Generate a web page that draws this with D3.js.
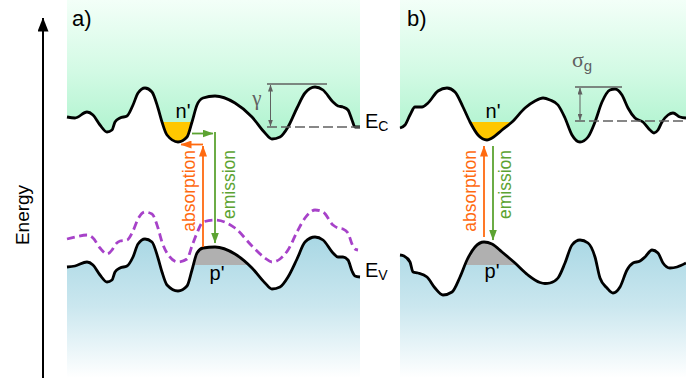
<!DOCTYPE html>
<html>
<head>
<meta charset="utf-8">
<script src="https://cdn.jsdelivr.net/npm/d3@7"></script>
<style>
  body { margin: 0; background: #fff; }
  svg { display: block; font-family: "Liberation Sans", Arial, sans-serif; }
</style>
</head>
<body>
<svg id="chart" width="686" height="378"></svg>
<script>
// ---- band-edge profiles (position along sample, energy in eV) ----
// a) fluctuating band edges with a constant gap
const posA   = [0, 8, 20, 26, 33, 40, 45, 48, 53, 60, 66, 71, 78, 85, 91, 95, 100, 111, 120, 125, 130, 136, 148, 168, 185, 198, 205, 213, 221, 230, 238, 248, 256, 266, 271, 276, 281, 285, 288, 293];
const ecA    = [2.61, 2.60, 2.66, 2.63, 2.53, 2.46, 2.48, 2.56, 2.60, 2.62, 2.73, 2.85, 2.90, 2.86, 2.70, 2.56, 2.43, 2.36, 2.41, 2.56, 2.73, 2.80, 2.82, 2.75, 2.61, 2.45, 2.39, 2.41, 2.51, 2.70, 2.85, 2.91, 2.88, 2.76, 2.72, 2.71, 2.68, 2.58, 2.51, 2.51];
const evA    = [1.11, 1.12, 1.16, 1.13, 1.03, 0.96, 0.98, 1.06, 1.10, 1.12, 1.21, 1.34, 1.39, 1.36, 1.20, 1.06, 0.93, 0.87, 0.92, 1.08, 1.25, 1.30, 1.31, 1.24, 1.10, 0.95, 0.89, 0.91, 1.01, 1.19, 1.36, 1.41, 1.38, 1.25, 1.21, 1.21, 1.18, 1.07, 1.02, 1.01];
// shifted valence edge (dashed), ends slightly before the panel edge
const posS   = [0, 8, 20, 26, 33, 40, 45, 48, 53, 60, 66, 71, 78, 85, 91, 95, 100, 111, 120, 125, 130, 136, 148, 168, 185, 198, 205, 213, 221, 230, 238, 248, 256, 266, 271, 276, 281, 285, 288, 291];
const shiftA = [1.39, 1.41, 1.43, 1.40, 1.30, 1.24, 1.28, 1.33, 1.37, 1.38, 1.47, 1.59, 1.66, 1.64, 1.50, 1.36, 1.25, 1.16, 1.19, 1.32, 1.45, 1.56, 1.58, 1.50, 1.32, 1.20, 1.16, 1.19, 1.28, 1.46, 1.60, 1.68, 1.66, 1.53, 1.50, 1.49, 1.45, 1.34, 1.29, 1.28];

// b) independently fluctuating band edges
const posB = [0, 5, 10, 15, 22, 28, 38, 47, 55, 63, 70, 78, 87, 92, 102, 112, 125, 135, 143, 150, 158, 165, 172, 180, 188, 195, 202, 210, 215, 222, 228, 235, 243, 250, 254, 258, 262, 268, 273, 280, 286];
const ecB  = [2.50, 2.53, 2.63, 2.71, 2.71, 2.75, 2.87, 2.90, 2.86, 2.71, 2.56, 2.43, 2.38, 2.40, 2.48, 2.56, 2.70, 2.77, 2.80, 2.78, 2.73, 2.60, 2.43, 2.36, 2.41, 2.56, 2.76, 2.88, 2.89, 2.83, 2.70, 2.60, 2.56, 2.48, 2.45, 2.48, 2.56, 2.63, 2.65, 2.61, 2.60];
const posBv = [0, 4, 10, 13, 18, 27, 35, 43, 52, 60, 67, 75, 84, 92, 102, 115, 128, 140, 145, 150, 158, 165, 172, 180, 188, 195, 200, 207, 213, 220, 227, 233, 240, 245, 252, 258, 263, 270, 277, 286];
const evB   = [1.23, 1.22, 1.16, 1.06, 1.05, 1.01, 0.90, 0.83, 0.86, 1.01, 1.18, 1.31, 1.36, 1.34, 1.26, 1.15, 1.03, 0.955, 0.945, 0.95, 1.00, 1.15, 1.33, 1.38, 1.35, 1.21, 1.00, 0.90, 0.85, 0.91, 1.08, 1.15, 1.17, 1.21, 1.28, 1.25, 1.15, 1.10, 1.11, 1.15];

// occupied states: [panel a, panel b]
const nLevel = [2.56, 2.56];
const pLevel = [1.13, 1.13];
const nWell  = [[90, 135], [60, 120]];
const pHill  = [[120, 185], [62, 118]];

// fluctuation amplitude markers: [position from, position to, arrow position, lower E, upper E]
const gammaMark = [200, 260, 203.5, 2.51, 2.94];
const sigmaMark = [175, 222, 180, 2.57, 2.91];

// optical transitions: [pos1, E1, pos2, E2]
const absorbA = [[136, 1.31, 136, 2.32], [136, 2.335, 114, 2.335]];
const emitA   = [[125, 2.445, 146, 2.445], [148, 2.46, 148, 1.35]];
const absorbB = [[84, 1.41, 84, 2.32]];
const emitB   = [[93, 2.32, 93, 1.38]];

const W = 686, H = 378;
const svg = d3.select("#chart");
const y  = d3.scaleLinear().domain([0, 3.78]).range([H, 0]);
const xA = d3.scaleLinear().domain([0, 293]).range([67, 360]);
const xB = d3.scaleLinear().domain([0, 286]).range([400, 686]);

const ORANGE = "#ff6a10", GREEN = "#5ca332", GREY = "#606060", PURPLE = "#a742c9";

const defs = svg.append("defs");
const gGreen = defs.append("linearGradient").attr("id", "cbGrad")
  .attr("gradientUnits", "userSpaceOnUse").attr("x1", 0).attr("x2", 0).attr("y1", 0).attr("y2", 145);
gGreen.append("stop").attr("offset", 0).attr("stop-color", "#f3fff8");
gGreen.append("stop").attr("offset", 0.5).attr("stop-color", "#d2fae4");
gGreen.append("stop").attr("offset", 1).attr("stop-color", "#a9f2cb");
const gBlue = defs.append("linearGradient").attr("id", "vbGrad")
  .attr("gradientUnits", "userSpaceOnUse").attr("x1", 0).attr("x2", 0).attr("y1", 236).attr("y2", 378);
gBlue.append("stop").attr("offset", 0).attr("stop-color", "#a8d7e4");
gBlue.append("stop").attr("offset", 0.5).attr("stop-color", "#cbe7ef");
gBlue.append("stop").attr("offset", 1).attr("stop-color", "#ffffff");

function marker(id, color, len, wid) {
  defs.append("marker").attr("id", id).attr("markerUnits", "userSpaceOnUse")
    .attr("viewBox", `0 0 ${len} ${wid}`).attr("refX", len - 0.5).attr("refY", wid / 2)
    .attr("markerWidth", len).attr("markerHeight", wid).attr("orient", "auto-start-reverse")
    .append("path").attr("d", `M0,0L${len},${wid / 2}L0,${wid}Z`).attr("fill", color);
}
marker("arOrange", ORANGE, 11, 8);
marker("arGreen", GREEN, 11, 8);
marker("arGrey", GREY, 7, 5);
marker("arBlack", "#000", 14, 11);

const smooth = d3.curveMonotoneX;

function drawPanel(id, x, pos, ec, posV, ev, k) {
  const g = svg.append("g");
  const lineC = d3.line().x((d, i) => x(pos[i])).y(d => y(d)).curve(smooth);
  const lineV = d3.line().x((d, i) => x(posV[i])).y(d => y(d)).curve(smooth);
  const areaC = d3.area().x((d, i) => x(pos[i])).y0(0).y1(d => y(d)).curve(smooth);
  const areaV = d3.area().x((d, i) => x(posV[i])).y0(H).y1(d => y(d)).curve(smooth);

  g.append("path").attr("d", areaC(ec)).attr("fill", "url(#cbGrad)");
  g.append("path").attr("d", areaV(ev)).attr("fill", "url(#vbGrad)");

  defs.append("clipPath").attr("id", id + "cb").append("path").attr("d", areaC(ec));
  defs.append("clipPath").attr("id", id + "vb").append("path").attr("d", areaV(ev));

  // electrons pooled in the conduction-band well
  g.append("rect").attr("clip-path", `url(#${id}cb)`)
    .attr("x", x(nWell[k][0])).attr("width", x(nWell[k][1]) - x(nWell[k][0]))
    .attr("y", y(nLevel[k])).attr("height", y(2.0) - y(nLevel[k]))
    .attr("fill", "#ffc700");
  // holes pooled on the valence-band hill
  g.append("rect").attr("clip-path", `url(#${id}vb)`)
    .attr("x", x(pHill[k][0])).attr("width", x(pHill[k][1]) - x(pHill[k][0]))
    .attr("y", y(1.7)).attr("height", y(pLevel[k]) - y(1.7))
    .attr("fill", "#b0b0b0");

  g.append("path").attr("d", lineC(ec)).attr("fill", "none").attr("stroke", "#000").attr("stroke-width", 2.8);
  g.append("path").attr("d", lineV(ev)).attr("fill", "none").attr("stroke", "#000").attr("stroke-width", 2.8);
  return g;
}

const gA = drawPanel("pa", xA, posA, ecA, posA, evA, 0);
const gB = drawPanel("pb", xB, posB, ecB, posBv, evB, 1);

// shifted valence edge in a)
gA.append("path")
  .attr("d", d3.line().x((d, i) => xA(posS[i])).y(d => y(d)).curve(smooth)(shiftA))
  .attr("fill", "none").attr("stroke", PURPLE).attr("stroke-width", 2.8).attr("stroke-dasharray", "8,4.5");

// amplitude markers
function ampMarker(g, x, m, xEnd) {
  g.append("line").attr("x1", x(m[0])).attr("x2", x(xEnd)).attr("y1", y(m[3])).attr("y2", y(m[3]))
    .attr("stroke", GREY).attr("stroke-width", 1.6).attr("stroke-dasharray", "10,4");
  g.append("line").attr("x1", x(m[0])).attr("x2", x(m[1])).attr("y1", y(m[4])).attr("y2", y(m[4]))
    .attr("stroke", GREY).attr("stroke-width", 1.6);
  g.append("line").attr("x1", x(m[2])).attr("x2", x(m[2])).attr("y1", y(m[4]) + 1).attr("y2", y(m[3]) - 1)
    .attr("stroke", GREY).attr("stroke-width", 1)
    .attr("marker-start", "url(#arGrey)").attr("marker-end", "url(#arGrey)");
}
ampMarker(gA, xA, gammaMark, 293);
ampMarker(gB, xB, sigmaMark, 286);

function arrows(g, x, segs, color, mk) {
  segs.forEach(s => {
    g.append("line").attr("x1", x(s[0])).attr("y1", y(s[1])).attr("x2", x(s[2])).attr("y2", y(s[3]))
      .attr("stroke", color).attr("stroke-width", 1.8).attr("marker-end", `url(#${mk})`);
  });
}
arrows(gA, xA, absorbA, ORANGE, "arOrange");
arrows(gA, xA, emitA, GREEN, "arGreen");
arrows(gB, xB, absorbB, ORANGE, "arOrange");
arrows(gB, xB, emitB, GREEN, "arGreen");

// rotated transition labels
function vText(cx, top, txt, color) {
  svg.append("text").attr("transform", `translate(${cx},${top}) rotate(-90)`)
    .attr("text-anchor", "end").attr("dy", "0.35em")
    .attr("font-size", 17.5).attr("fill", color).text(txt);
}
vText(189, 150, "absorption", ORANGE);
vText(229, 150, "emission", GREEN);
vText(470, 150, "absorption", ORANGE);
vText(505, 150, "emission", GREEN);

// text labels
function label(x0, y0, txt, size, color, anchor) {
  return svg.append("text").attr("x", x0).attr("y", y0).attr("font-size", size)
    .attr("fill", color || "#000").attr("text-anchor", anchor || "start").text(txt);
}
label(72, 26, "a)", 22);
label(407, 26, "b)", 22);
label(183, 118, "n'", 20, "#000", "middle");
label(493, 118, "n'", 20, "#000", "middle");
label(217, 280, "p'", 20, "#000", "middle");
label(492, 278, "p'", 20, "#000", "middle");
label(257, 105, "γ", 21, GREY, "middle").attr("font-family", "'Liberation Serif', serif");

const ecLab = label(365, 128, "E", 20);
ecLab.append("tspan").attr("font-size", 14).attr("dy", 3).text("C");
const evLab = label(365, 277, "E", 20);
evLab.append("tspan").attr("font-size", 14).attr("dy", 3).text("V");
const sgLab = label(572, 67, "σ", 22, GREY).attr("font-family", "'Liberation Serif', serif");
sgLab.append("tspan").attr("font-family", "'Liberation Sans', Arial, sans-serif")
  .attr("font-size", 15).attr("dy", 4).text("g");

// energy axis
svg.append("line").attr("x1", 43).attr("x2", 43).attr("y1", H).attr("y2", 18)
  .attr("stroke", "#000").attr("stroke-width", 2).attr("marker-end", "url(#arBlack)");
svg.append("text").attr("transform", "translate(22,215) rotate(-90)")
  .attr("text-anchor", "middle").attr("dy", "0.35em").attr("font-size", 19).text("Energy");
</script>
</body>
</html>
